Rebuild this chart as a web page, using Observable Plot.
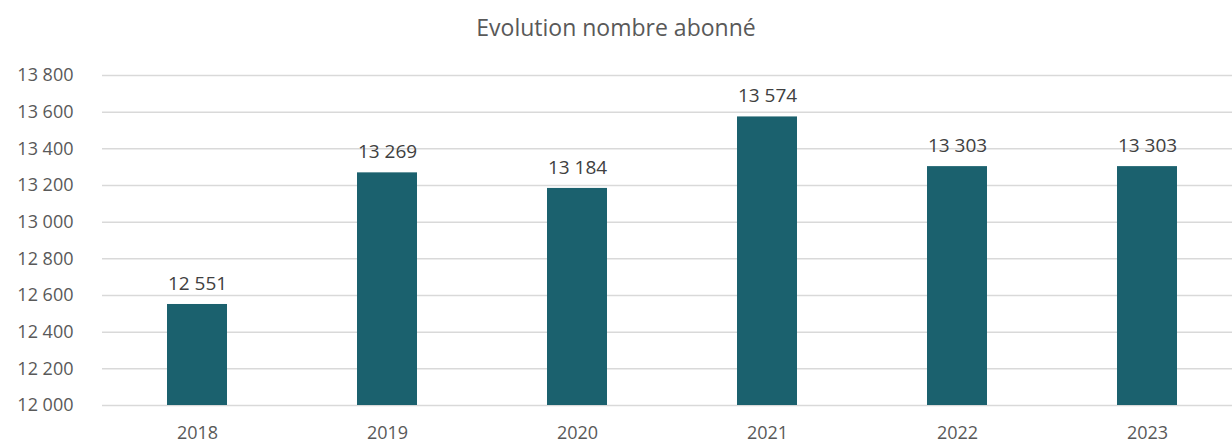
<!DOCTYPE html>
<html>
<head>
<meta charset="utf-8">
<script src="https://cdn.jsdelivr.net/npm/d3@7"></script>
<script src="https://cdn.jsdelivr.net/npm/@observablehq/plot@0.6"></script>
<style>
  html, body { margin: 0; padding: 0; background: #fff; }
  body { width: 1232px; height: 448px; overflow: hidden; font-family: "Open Sans", sans-serif; }
  #title { height: 60px; line-height: 54px; text-align: center; font-size: 23px; color: #595959; }
</style>
</head>
<body>
<div id="title">Evolution nombre abonné</div>
<div id="chart"></div>
<script>
const years = ["2018", "2019", "2020", "2021", "2022", "2023"];
const subscribers = [12551, 13269, 13184, 13574, 13303, 13303];
const yTicks = [12000, 12200, 12400, 12600, 12800, 13000, 13200, 13400, 13600, 13800];

const fr = d3.formatLocale({decimal: ",", thousands: " ", grouping: [3], currency: ["", " €"]});
const fmt = fr.format(",d");
const data = years.map((y, i) => ({year: y, value: subscribers[i]}));

const chart = Plot.plot({
  width: 1232,
  height: 388,
  marginLeft: 102,
  marginRight: 0,
  marginTop: 15,
  marginBottom: 43,
  style: {fontFamily: "'Open Sans', sans-serif", fontSize: "18px", color: "#595959", background: "#fff"},
  x: {domain: years, range: [102, 1242], paddingInner: 0.684, paddingOuter: 0.342, label: null},
  y: {domain: [12000, 13800], label: null},
  marks: [
    Plot.ruleY(yTicks, {stroke: "#d9d9d9", strokeWidth: 1.5}),
    Plot.barY(data, {x: "year", y1: 12000, y2: "value", fill: "#1b616e"}),
    Plot.text(data, {x: "year", y: "value", text: d => fmt(d.value), dy: -21, fill: "#404040", fontSize: 19}),
    Plot.axisY(yTicks, {tickFormat: fmt, tickSize: 0, tickPadding: 29, fill: "#595959", fontSize: 18}),
    Plot.axisX({tickSize: 0, tickPadding: 21, fill: "#595959", fontSize: 18})
  ]
});
document.getElementById("chart").appendChild(chart);
</script>
</body>
</html>
